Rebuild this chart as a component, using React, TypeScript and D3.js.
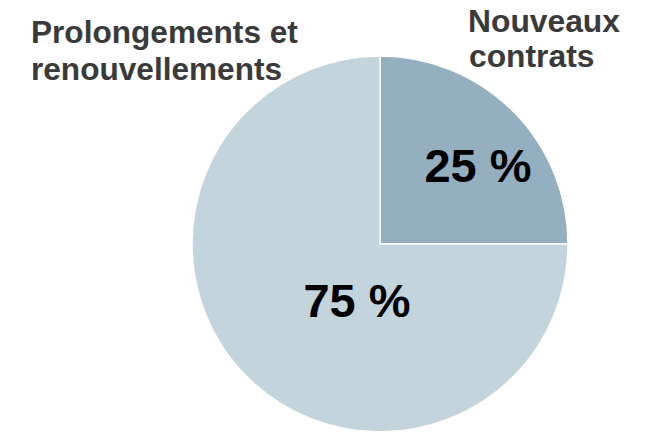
import React from "react";
import * as d3 from "d3";

const categories = ["Nouveaux contrats", "Prolongements et renouvellements"];
const values = [25, 75];
const colors = ["#94AFBF", "#C3D4DD"];
const percentLabels = ["25 %", "75 %"];

const W = 649;
const H = 433;
const cx = 380;
const cy = 244;
const R = 188;

export default function App() {
  const pie = d3.pie<number>().sort(null).startAngle(0).endAngle(2 * Math.PI);
  const arcs = pie(values);
  const arc = d3.arc<d3.PieArcDatum<number>>().innerRadius(0).outerRadius(R);
  // label offsets relative to center
  const labelPos = [
    { x: 98, y: -62 },
    { x: -23, y: 73 },
  ];
  return (
    <svg
      width={W}
      height={H}
      style={{ position: "absolute", left: 0, top: 0 }}
      fontFamily="Liberation Sans, Arial, sans-serif"
    >
      <rect width={W} height={H} fill="#ffffff" />
      <g transform={`translate(${cx},${cy})`}>
        {arcs.map((a, i) => (
          <path key={i} d={arc(a) || ""} fill={colors[i]} stroke="#ffffff" strokeWidth={1.5} />
        ))}
        {arcs.map((a, i) => (
          <text
            key={"p" + i}
            x={labelPos[i].x}
            y={labelPos[i].y}
            textAnchor="middle"
            fontSize={47}
            fontWeight="bold"
            fill="#000000"
          >
            {percentLabels[i]}
          </text>
        ))}
      </g>
      <text fontSize={31.8} fontWeight="bold" fill="#3a3a3a">
        <tspan x={468} y={32}>{categories[0].split(" ")[0]}</tspan>
        <tspan x={469} y={67}>{categories[0].split(" ")[1]}</tspan>
      </text>
      <text fontSize={31.6} fontWeight="bold" fill="#3a3a3a">
        <tspan x={31} y={43}>Prolongements et</tspan>
        <tspan x={31} y={80}>renouvellements</tspan>
      </text>
    </svg>
  );
}
